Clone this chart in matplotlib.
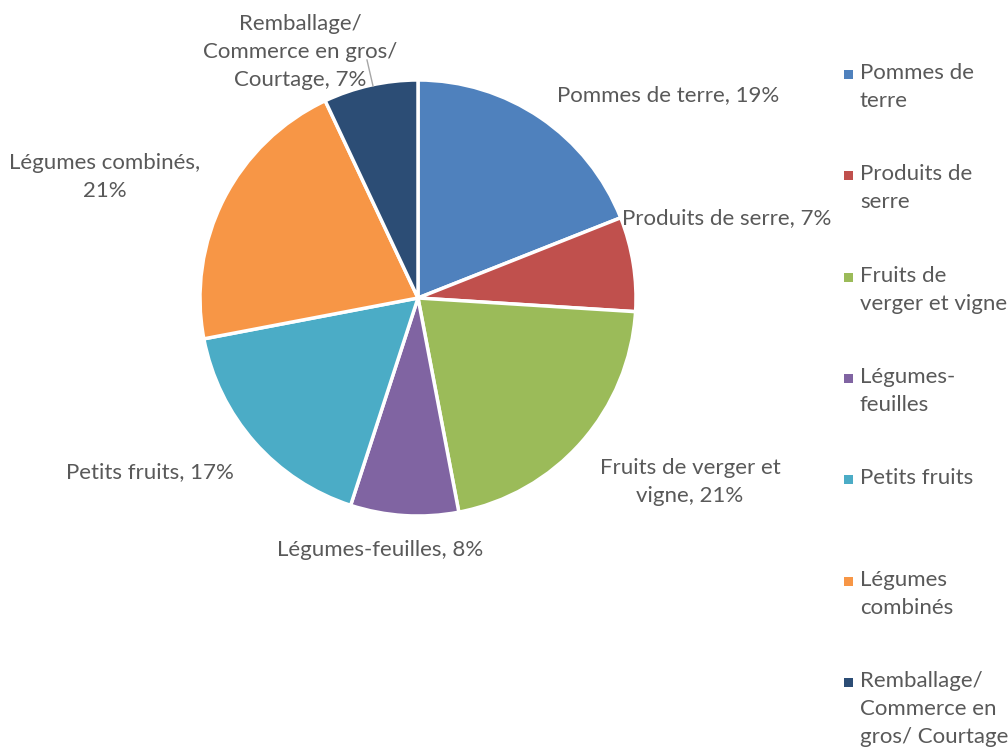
import matplotlib
matplotlib.use("Agg")
import matplotlib.pyplot as plt
from matplotlib.patches import Rectangle

# données
categories = ["Pommes de terre", "Produits de serre", "Fruits de verger et vigne",
              "Légumes-feuilles", "Petits fruits", "Légumes combinés",
              "Remballage/ Commerce en gros/ Courtage"]
valeurs = [19, 7, 21, 8, 17, 21, 7]
etiquettes = ["Pommes de terre, 19%", "Produits de serre, 7%",
              "Fruits de verger et\nvigne, 21%", "Légumes-feuilles, 8%",
              "Petits fruits, 17%", "Légumes combinés,\n21%",
              "Remballage/\nCommerce en gros/\nCourtage, 7%"]
legende = ["Pommes de\nterre", "Produits de\nserre", "Fruits de\nverger et vigne",
           "Légumes-\nfeuilles", "Petits fruits", "Légumes\ncombinés",
           "Remballage/\nCommerce en\ngros/ Courtage"]
couleurs = ["#4F81BD", "#C0504D", "#9BBB59", "#8064A2", "#4BACC6", "#F79646", "#2C4D75"]

# position des étiquettes (pixels de l'image)
pos_etiq = [(668, 95), (727, 218), (690, 482), (380, 550), (150, 472), (105, 177), (300, 52)]

W, H = 1008, 752
cx, cy, r = 418, 298, 218
gris = "#595959"
police = "Lato"
taille = 16

fig = plt.figure(figsize=(W / 100, H / 100), dpi=100)
ax = fig.add_axes([(cx - r) / W, (H - cy - r) / H, 2 * r / W, 2 * r / H])
ax.pie(valeurs, colors=couleurs, startangle=90, counterclock=False, radius=1,
       wedgeprops=dict(edgecolor="white", linewidth=2.5))
ax.set_xlim(-1, 1)
ax.set_ylim(-1, 1)
ax.set_aspect("auto")
ax.axis("off")

for txt, (px, py) in zip(etiquettes, pos_etiq):
    ax.text((px - cx) / r, (cy - py) / r, txt, ha="center", va="center",
            fontsize=taille, color=gris, family=police, linespacing=1.5,
            clip_on=False)

# trait de rappel pour Remballage
ax.plot([(367 - cx) / r, (373 - cx) / r], [(cy - 60) / r, (cy - 86) / r],
        color="#A6A6A6", lw=1, clip_on=False)

# légende
for i, (txt, c) in enumerate(zip(legende, couleurs)):
    y0 = 74 + i * 101.3
    fig.add_artist(Rectangle(((844) / W, (H - y0 - 5) / H), 9 / W, 9 / H,
                             transform=fig.transFigure, facecolor=c, edgecolor="none"))
    fig.text(860 / W, (H - y0 + 11) / H, txt, ha="left", va="top", fontsize=taille,
             color=gris, family=police, linespacing=1.5)

fig.savefig("out.png", dpi=100)
